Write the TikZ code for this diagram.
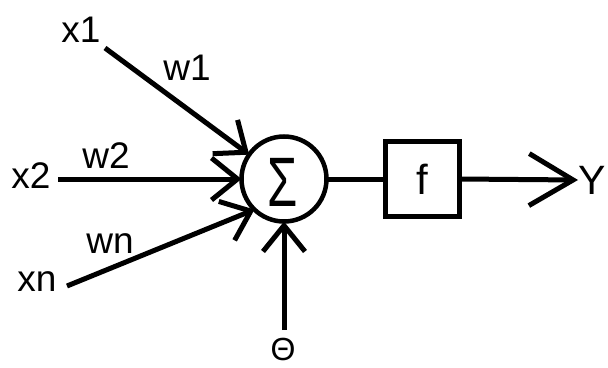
\documentclass[tikz,border=0pt]{standalone}
\usepackage{fontspec}
\setmainfont{Liberation Sans}
\usetikzlibrary{arrows.meta}
\begin{document}
\begin{tikzpicture}[x=1pt,y=-1pt,
  lbl/.style={font=\fontsize{37}{40}\selectfont, inner sep=0pt},
  wire/.style={line width=5pt},
  inarrow/.style={wire, -{Straight Barb[length=26pt,width=42pt]}},
  outarrow/.style={wire, -{Straight Barb[length=44pt,width=52pt]}},
  sumnode/.style={circle, draw, line width=4.5pt, minimum size=85pt, inner sep=0pt, outer sep=0pt},
  fbox/.style={draw, line width=5pt, minimum width=74pt, minimum height=75pt, inner sep=0pt, outer sep=0pt, font=\fontsize{42}{44}\selectfont}]
\useasboundingbox (0,0) rectangle (608,367);

\node[sumnode] (sum) at (284,179) {};
\node[font=\fontsize{70}{70}\selectfont, inner sep=0pt] (sigma) at (283,182) {\scalebox{0.7}[1]{Σ}};
\node[fbox] (f) at (422.5,179) {f};

\node[lbl] (x1) at (81,30) {x1};
\node[lbl] (w1) at (187,68) {w1};
\node[lbl] (x2) at (31,176) {x2};
\node[lbl] (w2) at (106,156) {w2};
\node[lbl] (wn) at (110,244) {wn};
\node[lbl] (xn) at (37,282) {xn};
\node[lbl, font=\fontsize{32}{34}\selectfont] (theta) at (283,349) {Θ};
\node[lbl, font=\fontsize{41}{44}\selectfont, anchor=west] (Y) at (578,180) {Y};

\coordinate (s1) at (105,48);
\coordinate (s2) at (58,179);
\coordinate (sn) at (67,286);
\coordinate (st) at (284,330);

\draw[inarrow] (s1) -- (sum.145);
\draw[inarrow] (s2) -- (sum.west);
\draw[inarrow] (sn) -- (sum.226);
\draw[inarrow] (st) -- (sum.south);
\draw[wire] (sum.east) -- (f.west);
\draw[outarrow] (f.east) -- (Y.west);
\end{tikzpicture}
\end{document}
